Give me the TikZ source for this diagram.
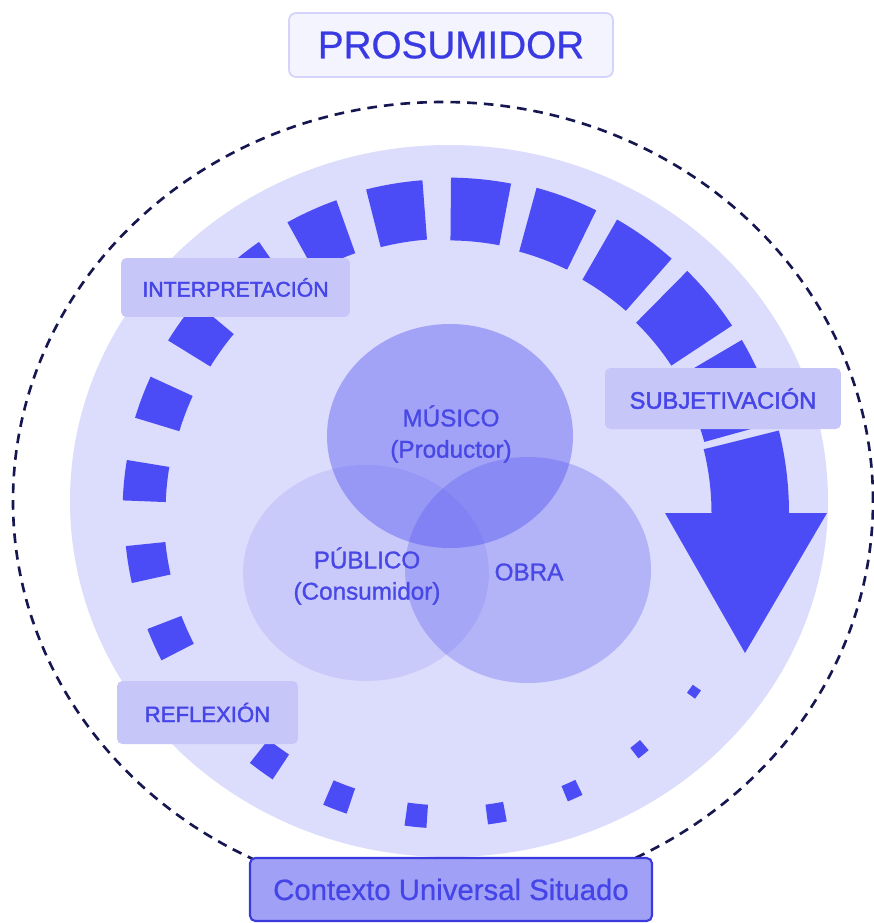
\documentclass[tikz,border=0pt]{standalone}
\usepackage{fontspec}
\setmainfont{Liberation Sans}
\usetikzlibrary{calc}

\definecolor{disc}{RGB}{220,220,252}
\definecolor{blockblue}{RGB}{76,76,246}
\definecolor{labelfill}{RGB}{198,198,248}
\definecolor{labeltext}{RGB}{70,70,232}
\definecolor{venntext}{RGB}{72,72,230}
\definecolor{vennfill}{RGB}{80,80,240}
\definecolor{prosfill}{RGB}{244,244,255}
\definecolor{prosdraw}{RGB}{212,212,250}
\definecolor{prostext}{RGB}{58,58,226}
\definecolor{ctxfill}{RGB}{160,160,246}
\definecolor{ctxdraw}{RGB}{58,58,222}
\definecolor{ctxtext}{RGB}{68,68,232}
\definecolor{dashcol}{RGB}{22,22,80}

\begin{document}
\begin{tikzpicture}[x=0.02cm,y=0.02cm,
  stagebox/.style={fill=labelfill, rounded corners=3pt, text=labeltext, inner sep=0pt},
  venntxt/.style={text=venntext, align=center,
    font=\fontsize{13.8}{17.8}\selectfont\addfontfeature{FakeBold=1.2}},
  ring/.style={fill=blockblue}
]
\useasboundingbox (0,0) rectangle (873,-923);
\fill[white] (0,0) rectangle (873,-923);

% outer dashed contour and light disc
\draw[dashcol, line width=1.5pt, dash pattern=on 5.5pt off 4pt]
  (443,-501) ellipse [x radius=430, y radius=399];
\fill[disc] (449,-501) ellipse [x radius=379, y radius=356];

% growing blocks around the cycle (one slot behind REFLEXION stays empty)
\coordinate (C) at (448,-513);
\foreach \k in {0,...,6,8,9,...,19}{
  \pgfmathsetmacro{\th}{324-14.98*\k}
  \pgfmathsetmacro{\hw}{deg((10+2.8*\k)/304)/2}
  \pgfmathsetmacro{\ht}{(10+3.3*\k)/2}
  \pgfmathsetmacro{\ra}{304-\ht}
  \pgfmathsetmacro{\rb}{304+\ht}
  \pgfmathsetmacro{\tA}{\th-\hw}
  \pgfmathsetmacro{\tB}{\th+\hw}
  \fill[ring] ($(C)+(\tA:\ra)$) arc[start angle=\tA, end angle=\tB, radius=\ra]
    -- ($(C)+(\tB:\rb)$) arc[start angle=\tB, end angle=\tA, radius=\rb] -- cycle;
}
\fill[ring] ($(C)+(15.5:266)$) arc[start angle=15.5, end angle=30.5, radius=266]
  -- ($(C)+(30.5:341)$) arc[start angle=30.5, end angle=15.5, radius=341] -- cycle;

% final arrow
\fill[ring] ($(C)+(14:341)$) arc[start angle=14, end angle=0, radius=341]
  -- (789,-513) -- (827,-513) -- (745,-653) -- (665,-513) -- (711.5,-513)
  -- ($(C)+(0:263.5)$) arc[start angle=0, end angle=14, radius=263.5] -- cycle;

% Venn circles
\fill[vennfill, opacity=0.12] (366,-573) ellipse [x radius=123, y radius=108];
\fill[vennfill, opacity=0.29] (528,-570) ellipse [x radius=123, y radius=113];
\fill[vennfill, opacity=0.41] (450,-436) ellipse [x radius=123, y radius=112];

\node[venntxt] (musico) at (451,-434) {MÚSICO\\(Productor)};
\node[venntxt] (publico) at (367,-576) {PÚBLICO\\(Consumidor)};
\node[venntxt] (obra) at (529,-572) {OBRA};

% stage labels
\node[stagebox, minimum width=4.58cm, minimum height=1.18cm,
  font=\fontsize{12.1}{14}\selectfont\addfontfeature{FakeBold=2}] (interp) at (235.5,-287.5) {INTERPRETACIÓN};
\node[stagebox, minimum width=4.72cm, minimum height=1.22cm,
  font=\fontsize{13.5}{15}\selectfont\addfontfeature{FakeBold=2}] (subj) at (723,-398.5) {SUBJETIVACIÓN};
\node[stagebox, minimum width=3.62cm, minimum height=1.26cm,
  font=\fontsize{12.6}{14}\selectfont\addfontfeature{FakeBold=2}] (refl) at (207.5,-712.5) {REFLEXIÓN};

% title and context
\node[fill=prosfill, draw=prosdraw, line width=1pt, rounded corners=4pt,
  minimum width=6.48cm, minimum height=1.28cm, inner sep=0pt, text=prostext,
  font=\fontsize{22}{24}\selectfont\addfontfeature{FakeBold=0.6}] (pros) at (451,-45) {PROSUMIDOR};
\node[fill=ctxfill, draw=ctxdraw, line width=1.2pt, rounded corners=3pt,
  minimum width=8.04cm, minimum height=1.26cm, inner sep=0pt, text=ctxtext,
  font=\fontsize{16.7}{19}\selectfont\addfontfeature{FakeBold=0.6}] (ctx) at (451,-889.5) {Contexto Universal Situado};
\end{tikzpicture}
\end{document}
